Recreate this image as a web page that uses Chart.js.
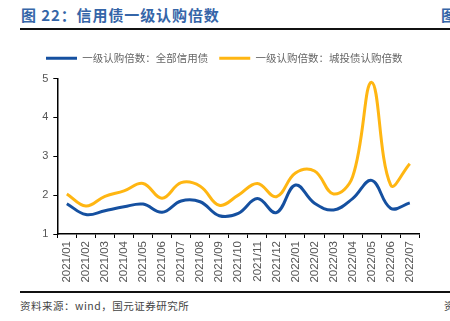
<!DOCTYPE html>
<html><head><meta charset="utf-8">
<script src="https://cdn.jsdelivr.net/npm/chart.js@4/dist/chart.umd.min.js"></script>
<style>
html,body{margin:0;padding:0;background:#fff;}
body{width:450px;height:321px;position:relative;overflow:hidden;font-family:"Noto Sans CJK SC","Liberation Sans",sans-serif;}
.t{position:absolute;white-space:nowrap;}
#title{left:21px;top:4px;font-size:15px;font-weight:bold;color:#3565a8;letter-spacing:0.9px;}
#title2{left:441px;top:4px;font-size:15px;font-weight:bold;color:#3565a8;}
#rule1{position:absolute;left:20px;top:28px;width:430px;height:2px;background:#111;}
#rule2{position:absolute;left:20px;top:291px;width:430px;height:1.5px;background:#111;}
#src{left:20px;top:298px;font-size:10.5px;color:#444;letter-spacing:0.5px;}
#src2{left:444px;top:298px;font-size:10.5px;color:#444;}
canvas{position:absolute;left:0;top:0;}
</style></head>
<body>
<div class="t" id="title">图 22：信用债一级认购倍数</div>
<div class="t" id="title2">图</div>
<div id="rule1"></div>
<div id="rule2"></div>
<div class="t" id="src">资料来源：wind，国元证券研究所</div>
<div class="t" id="src2">资</div>
<canvas id="c" width="450" height="321"></canvas>
<script>
const categories = ["2021/01","2021/02","2021/03","2021/04","2021/05","2021/06","2021/07","2021/08","2021/09","2021/10","2021/11","2021/12","2022/01","2022/02","2022/03","2022/04","2022/05","2022/06","2022/07"];
const allCredit = [1.78,1.50,1.60,1.70,1.77,1.56,1.85,1.83,1.47,1.53,1.91,1.55,2.26,1.79,1.62,1.91,2.38,1.66,1.80];
const chengtou = [2.03,1.72,1.97,2.11,2.30,1.92,2.32,2.23,1.74,2.00,2.30,1.96,2.57,2.62,2.03,2.47,4.90,2.26,2.81];
const seriesNames = ["一级认购倍数：全部信用债","一级认购倍数：城投债认购倍数"];
const yTicks = [1,2,3,4,5];

const spacer = {
  id:'spacer',
  beforeLayout(chart){
    const lg = chart.legend;
    if (lg && !lg._patched){
      const orig = lg.fit;
      lg.fit = function(){ orig.call(this); this.height += 5; };
      lg._patched = true;
    }
  }
};

new Chart(document.getElementById('c'), {
  type:'line',
  data:{
    labels:categories,
    datasets:[
      {label:seriesNames[0], data:allCredit, borderColor:'#1550a0', backgroundColor:'#1550a0', borderWidth:3, pointRadius:0, tension:0.4, pointStyle:'line'},
      {label:seriesNames[1], data:chengtou, borderColor:'#ffb612', backgroundColor:'#ffb612', borderWidth:3, pointRadius:0, tension:0.4, pointStyle:'line'}
    ]
  },
  options:{
    responsive:false, animation:false, devicePixelRatio:1,
    layout:{padding:{left:35, right:30.7, top:42, bottom:31}},
    plugins:{
      legend:{display:true, position:'top', align:'start',
        labels:{usePointStyle:true, pointStyleWidth:31, padding:11, color:'#666',
          font:{family:'"Noto Sans CJK SC"', size:10.5}}},
      tooltip:{enabled:false}
    },
    scales:{
      x:{
        offset:true,
        grid:{offset:true, display:true, drawOnChartArea:false, drawTicks:true, tickLength:4, color:'#000', lineWidth:1},
        border:{display:true, color:'#000', width:1.5},
        ticks:{maxRotation:90, minRotation:90, autoSkip:false, padding:3, color:'#555', font:{family:'"Liberation Sans"', size:11.5}},
        afterFit(s){ s.height = 56; }
      },
      y:{
        min:1, max:5,
        afterBuildTicks(s){ s.ticks = yTicks.map(v=>({value:v})); },
        grid:{display:true, drawOnChartArea:false, drawTicks:true, tickLength:4, color:'#000', lineWidth:1},
        border:{display:true, color:'#000', width:1.5},
        ticks:{padding:5, color:'#555', font:{family:'"Liberation Sans"', size:11}},
        afterFit(s){ s.width = 22.3; }
      }
    }
  },
  plugins:[spacer]
});
</script>
</body></html>
